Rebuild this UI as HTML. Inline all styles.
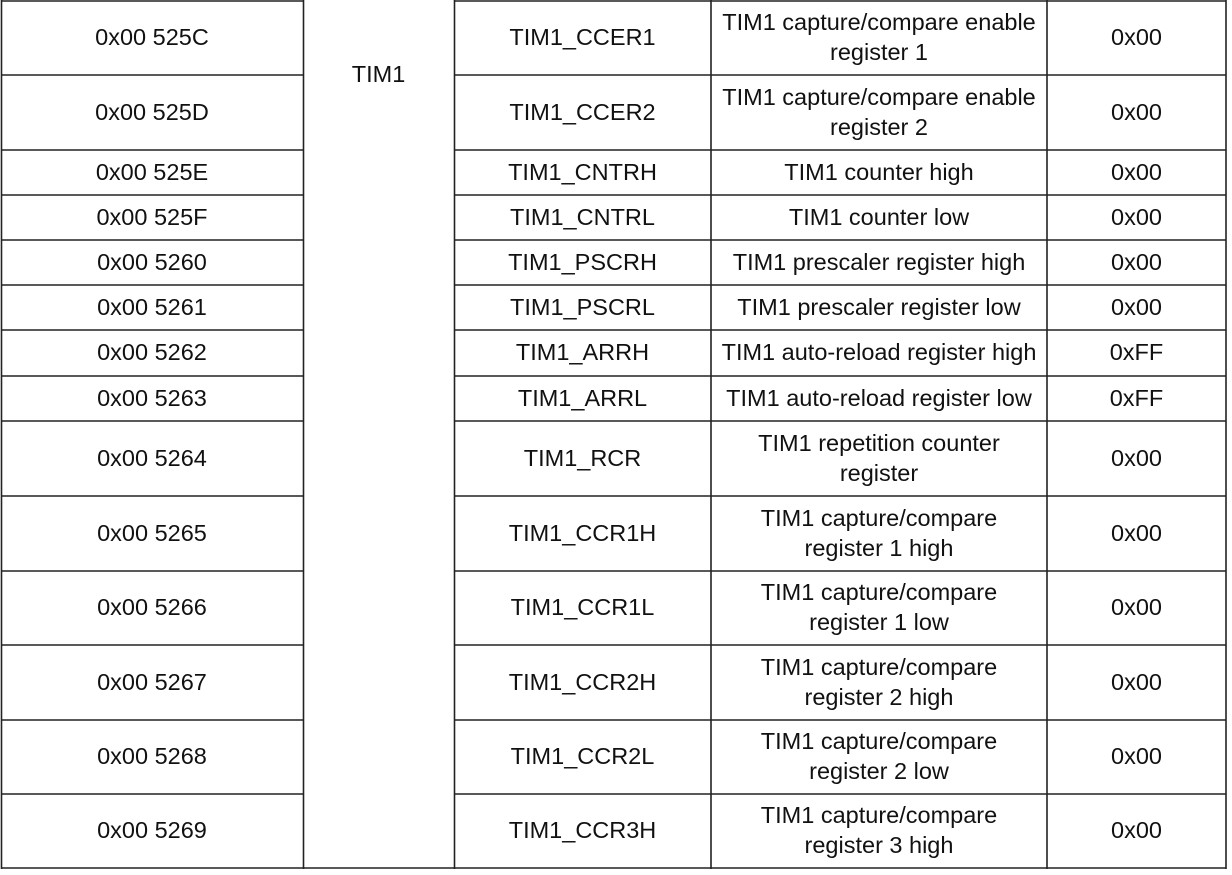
<!DOCTYPE html>
<html><head><meta charset="utf-8"><style>
body{margin:0;width:1232px;height:875px;background:#fff;position:relative;overflow:hidden;font-family:"Liberation Sans",Arial,sans-serif;font-size:23.5px;color:#111}
.c{position:absolute;display:flex;align-items:center;justify-content:center;text-align:center;line-height:30px;white-space:nowrap;margin-top:-1px}
svg{position:absolute;left:0;top:0}
</style></head><body>
<svg width="1232" height="875">
<g stroke="#222" stroke-width="1.6" fill="none">
<line x1="1.5" y1="0" x2="1.5" y2="869"/>
<line x1="303.5" y1="0" x2="303.5" y2="869"/>
<line x1="454.5" y1="0" x2="454.5" y2="869"/>
<line x1="711" y1="0" x2="711" y2="869"/>
<line x1="1047" y1="0" x2="1047" y2="869"/>
<line x1="1226" y1="0" x2="1226" y2="869"/>
<line x1="1" y1="1" x2="303" y2="1"/>
<line x1="454" y1="1" x2="1226" y2="1"/>
<line x1="1" y1="868" x2="1226" y2="868"/>
<path d="M1 75H303M454 75H1226M1 150H303M454 150H1226M1 195H303M454 195H1226M1 240H303M454 240H1226M1 285H303M454 285H1226M1 330H303M454 330H1226M1 376H303M454 376H1226M1 421H303M454 421H1226M1 496H303M454 496H1226M1 571H303M454 571H1226M1 645H303M454 645H1226M1 720H303M454 720H1226M1 794H303M454 794H1226"/>
</g></svg>
<div class="c" style="left:303px;top:0;width:151px;height:150px">TIM1</div>

<div class="c" style="left:1px;top:1px;width:302px;height:74px">0x00 525C</div>
<div class="c" style="left:454px;top:1px;width:257px;height:74px">TIM1_CCER1</div>
<div class="c" style="left:711px;top:1px;width:336px;height:74px">TIM1 capture/compare enable<br>register 1</div>
<div class="c" style="left:1047px;top:1px;width:179px;height:74px">0x00</div>

<div class="c" style="left:1px;top:75px;width:302px;height:75px">0x00 525D</div>
<div class="c" style="left:454px;top:75px;width:257px;height:75px">TIM1_CCER2</div>
<div class="c" style="left:711px;top:75px;width:336px;height:75px">TIM1 capture/compare enable<br>register 2</div>
<div class="c" style="left:1047px;top:75px;width:179px;height:75px">0x00</div>

<div class="c" style="left:1px;top:150px;width:302px;height:45px">0x00 525E</div>
<div class="c" style="left:454px;top:150px;width:257px;height:45px">TIM1_CNTRH</div>
<div class="c" style="left:711px;top:150px;width:336px;height:45px">TIM1 counter high</div>
<div class="c" style="left:1047px;top:150px;width:179px;height:45px">0x00</div>

<div class="c" style="left:1px;top:195px;width:302px;height:45px">0x00 525F</div>
<div class="c" style="left:454px;top:195px;width:257px;height:45px">TIM1_CNTRL</div>
<div class="c" style="left:711px;top:195px;width:336px;height:45px">TIM1 counter low</div>
<div class="c" style="left:1047px;top:195px;width:179px;height:45px">0x00</div>

<div class="c" style="left:1px;top:240px;width:302px;height:45px">0x00 5260</div>
<div class="c" style="left:454px;top:240px;width:257px;height:45px">TIM1_PSCRH</div>
<div class="c" style="left:711px;top:240px;width:336px;height:45px">TIM1 prescaler register high</div>
<div class="c" style="left:1047px;top:240px;width:179px;height:45px">0x00</div>

<div class="c" style="left:1px;top:285px;width:302px;height:45px">0x00 5261</div>
<div class="c" style="left:454px;top:285px;width:257px;height:45px">TIM1_PSCRL</div>
<div class="c" style="left:711px;top:285px;width:336px;height:45px">TIM1 prescaler register low</div>
<div class="c" style="left:1047px;top:285px;width:179px;height:45px">0x00</div>

<div class="c" style="left:1px;top:330px;width:302px;height:46px">0x00 5262</div>
<div class="c" style="left:454px;top:330px;width:257px;height:46px">TIM1_ARRH</div>
<div class="c" style="left:711px;top:330px;width:336px;height:46px">TIM1 auto-reload register high</div>
<div class="c" style="left:1047px;top:330px;width:179px;height:46px">0xFF</div>

<div class="c" style="left:1px;top:376px;width:302px;height:45px">0x00 5263</div>
<div class="c" style="left:454px;top:376px;width:257px;height:45px">TIM1_ARRL</div>
<div class="c" style="left:711px;top:376px;width:336px;height:45px">TIM1 auto-reload register low</div>
<div class="c" style="left:1047px;top:376px;width:179px;height:45px">0xFF</div>

<div class="c" style="left:1px;top:421px;width:302px;height:75px">0x00 5264</div>
<div class="c" style="left:454px;top:421px;width:257px;height:75px">TIM1_RCR</div>
<div class="c" style="left:711px;top:421px;width:336px;height:75px">TIM1 repetition counter<br>register</div>
<div class="c" style="left:1047px;top:421px;width:179px;height:75px">0x00</div>

<div class="c" style="left:1px;top:496px;width:302px;height:75px">0x00 5265</div>
<div class="c" style="left:454px;top:496px;width:257px;height:75px">TIM1_CCR1H</div>
<div class="c" style="left:711px;top:496px;width:336px;height:75px">TIM1 capture/compare<br>register 1 high</div>
<div class="c" style="left:1047px;top:496px;width:179px;height:75px">0x00</div>

<div class="c" style="left:1px;top:571px;width:302px;height:74px">0x00 5266</div>
<div class="c" style="left:454px;top:571px;width:257px;height:74px">TIM1_CCR1L</div>
<div class="c" style="left:711px;top:571px;width:336px;height:74px">TIM1 capture/compare<br>register 1 low</div>
<div class="c" style="left:1047px;top:571px;width:179px;height:74px">0x00</div>

<div class="c" style="left:1px;top:645px;width:302px;height:75px">0x00 5267</div>
<div class="c" style="left:454px;top:645px;width:257px;height:75px">TIM1_CCR2H</div>
<div class="c" style="left:711px;top:645px;width:336px;height:75px">TIM1 capture/compare<br>register 2 high</div>
<div class="c" style="left:1047px;top:645px;width:179px;height:75px">0x00</div>

<div class="c" style="left:1px;top:720px;width:302px;height:74px">0x00 5268</div>
<div class="c" style="left:454px;top:720px;width:257px;height:74px">TIM1_CCR2L</div>
<div class="c" style="left:711px;top:720px;width:336px;height:74px">TIM1 capture/compare<br>register 2 low</div>
<div class="c" style="left:1047px;top:720px;width:179px;height:74px">0x00</div>

<div class="c" style="left:1px;top:794px;width:302px;height:74px">0x00 5269</div>
<div class="c" style="left:454px;top:794px;width:257px;height:74px">TIM1_CCR3H</div>
<div class="c" style="left:711px;top:794px;width:336px;height:74px">TIM1 capture/compare<br>register 3 high</div>
<div class="c" style="left:1047px;top:794px;width:179px;height:74px">0x00</div>
</body></html>
